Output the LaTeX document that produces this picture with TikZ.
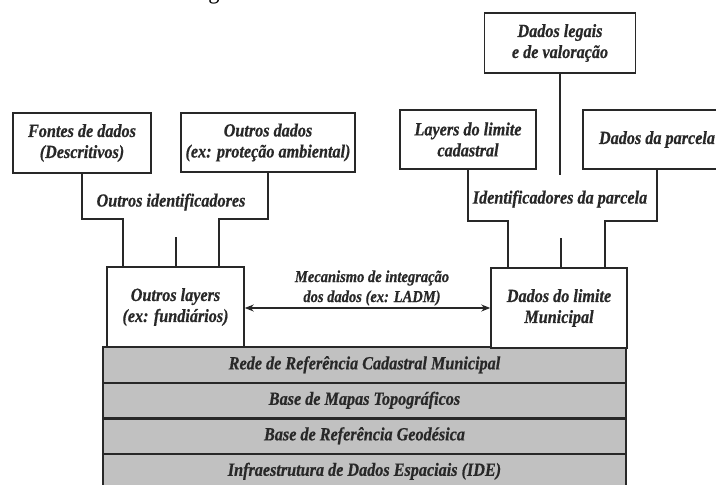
\documentclass[tikz,border=0pt]{standalone}
\usepackage{fontspec}
\setmainfont{Liberation Serif}[FakeStretch=0.87, BoldItalicFeatures={FakeBold=0.6}]
\usetikzlibrary{arrows.meta}
\definecolor{layergray}{RGB}{193,193,193}
\definecolor{ink}{RGB}{40,40,40}
\begin{document}
\begin{tikzpicture}[x=1pt,y=-1pt,
  txt/.style={font=\fontsize{18.6}{21}\selectfont\bfseries\itshape, text=ink, align=center},
  box/.style={txt, draw=ink, line width=1.5pt, fill=white, inner sep=0pt},
  layer/.style={txt, draw=ink, line width=1.2pt, fill=layergray, inner sep=0pt,
    minimum width=523, minimum height=35.5},
  sep/.style={draw=ink, line width=2.6pt},
  conn/.style={draw=ink, line width=1.3pt},
  small/.style={font=\fontsize{16.7}{20}\selectfont\bfseries\itshape, text=ink, align=center},
  dbl/.style={conn, {Stealth[length=9pt,width=7pt]}-{Stealth[length=9pt,width=7pt]}}
]
\useasboundingbox (0,0) rectangle (716,485);

% cropped fragment of text above the picture
\begin{scope}
  \clip (0,0) rectangle (716,485);
  \node[anchor=base, font=\fontsize{26}{30}\selectfont, text=black, inner sep=0pt] (frag) at (214,-2) {g};
\end{scope}

% grey base layers
\node[layer] (l1) at (364.5,364.75) {Rede de Referência Cadastral Municipal};
\node[layer] (l2) at (364.5,400.25) {Base de Mapas Topográficos};
\node[layer] (l3) at (364.5,435.75) {Base de Referência Geodésica};
\node[layer] (l4) at (364.5,471.25) {Infraestrutura de Dados Espaciais (IDE)};
\draw[sep] (l1.south west) -- (l1.south east);
\draw[sep] (l2.south west) -- (l2.south east);
\draw[sep] (l3.south west) -- (l3.south east);

% lower boxes
\node[box, minimum width=137, minimum height=80] (olayers) at (175.5,307) {Outros layers\\(ex: fundiários)};
\node[box, minimum width=136, minimum height=80] (dlimite) at (559,308) {Dados do limite\\Municipal};

% top-left boxes
\node[box, minimum width=138, minimum height=60] (fontes) at (82,143) {Fontes de dados\\(Descritivos)};
\node[box, minimum width=174, minimum height=59] (odados) at (268,142.5) {Outros dados\\(ex: proteção ambiental)};

% top-right boxes
\node[box, minimum width=151, minimum height=60] (legais) at (560,43) {Dados legais\\e de valoração};
\node[box, minimum width=136, minimum height=59] (llimite) at (468,139.5) {Layers do limite\\cadastral};
\begin{scope}
  \clip (0,0) rectangle (716,485);
  \node[box, minimum width=148, minimum height=59] (parcela) at (657,139.5) {Dados da parcela};
\end{scope}

% left connectors
\coordinate (lbendL) at (123,219);
\coordinate (lbendR) at (219,219);
\coordinate (lstub) at (176,237);
\draw[conn] (fontes.south) |- (lbendL) -- (lbendL |- olayers.north);
\draw[conn] (odados.south) |- (lbendR) -- (lbendR |- olayers.north);
\draw[conn] (lstub) -- (lstub |- olayers.north);
\node[txt] (oid) at (171,202) {Outros identificadores};

% right connectors
\coordinate (rbendL) at (508,221);
\coordinate (rbendR) at (605,221);
\coordinate (rleg) at (560,175);
\coordinate (rstub) at (561,238);
\draw[conn] (llimite.south) |- (rbendL) -- (rbendL |- dlimite.north);
\draw[conn] (parcela.south) |- (rbendR) -- (rbendR |- dlimite.north);
\draw[conn] (legais.south) -- (rleg);
\draw[conn] (rstub) -- (rstub |- dlimite.north);
\node[txt] (pid) at (560,199) {Identificadores da parcela};

% integration arrow
\draw[dbl] (olayers.east |- 0,308) -- (dlimite.west |- 0,308);
\node[small] (mec) at (372,288) {Mecanismo de integração\\dos dados (ex: LADM)};
\end{tikzpicture}
\end{document}
